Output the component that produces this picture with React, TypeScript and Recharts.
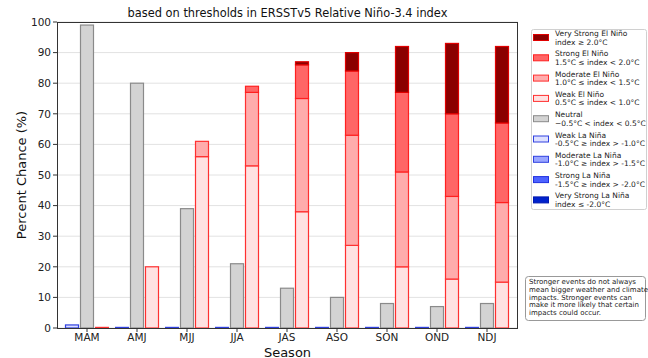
import React from 'react';
import { BarChart, Bar, XAxis, YAxis, CartesianGrid } from 'recharts';

const seasons = ['MAM', 'AMJ', 'MJJ', 'JJA', 'JAS', 'ASO', 'SON', 'OND', 'NDJ'];
const veryStrongLaNina = [0, 0, 0, 0, 0, 0, 0, 0, 0];
const strongLaNina = [0, 0, 0, 0, 0, 0, 0, 0, 0];
const moderateLaNina = [0, 0, 0, 0, 0, 0, 0, 0, 0];
const weakLaNina = [1, 0, 0, 0, 0, 0, 0, 0, 0];
const neutral = [99, 80, 39, 21, 13, 10, 8, 7, 8];
const weakElNino = [0, 20, 56, 53, 38, 27, 20, 16, 15];
const moderateElNino = [0, 0, 5, 24, 37, 36, 31, 27, 26];
const strongElNino = [0, 0, 0, 2, 11, 21, 26, 27, 26];
const veryStrongElNino = [0, 0, 0, 0, 1, 6, 15, 23, 25];
const yTicks = [0, 10, 20, 30, 40, 50, 60, 70, 80, 90, 100];

const data = seasons.map((s, i) => ({
  season: s,
  wLN: weakLaNina[i],
  mLN: moderateLaNina[i],
  sLN: strongLaNina[i],
  vLN: veryStrongLaNina[i],
  neu: neutral[i],
  wEN: weakElNino[i],
  mEN: moderateElNino[i],
  sEN: strongElNino[i],
  vEN: veryStrongElNino[i],
}));

const legendItems = [
  { fill: '#8b0000', stroke: '#e00000', l1: 'Very Strong El Niño', l2: 'index ≥ 2.0°C' },
  { fill: '#ff6666', stroke: '#ff2020', l1: 'Strong El Niño', l2: '1.5°C ≤ index < 2.0°C' },
  { fill: '#ffacac', stroke: '#ff3030', l1: 'Moderate El Niño', l2: '1.0°C ≤ index < 1.5°C' },
  { fill: '#ffe1e1', stroke: '#ff3030', l1: 'Weak El Niño', l2: '0.5°C ≤ index < 1.0°C' },
  { fill: '#d3d3d3', stroke: '#8a8a8a', l1: 'Neutral', l2: '−0.5°C < index < 0.5°C' },
  { fill: '#dde0ff', stroke: '#3040e0', l1: 'Weak La Niña', l2: '-0.5°C ≥ index > -1.0°C' },
  { fill: '#9aa6ff', stroke: '#3040e0', l1: 'Moderate La Niña', l2: '-1.0°C ≥ index > -1.5°C' },
  { fill: '#4d63ff', stroke: '#2030e0', l1: 'Strong La Niña', l2: '-1.5°C ≥ index > -2.0°C' },
  { fill: '#0022cc', stroke: '#0018b0', l1: 'Very Strong La Niña', l2: 'index ≤ -2.0°C' },
];

const noteLines = [
  'Stronger events do not always',
  'mean bigger weather and climate',
  'impacts. Stronger events can',
  'make it more likely that certain',
  'impacts could occur.',
];

const makeShape = (fill: string, stroke: string, drawZero: boolean) => (props: any) => {
  const { x, y, width, height } = props;
  if (x == null || y == null || !isFinite(x) || !isFinite(y)) return <g />;
  const h = Math.abs(height || 0);
  if (h < 0.01) {
    if (!drawZero) return <g />;
    return <line x1={x} x2={x + width} y1={y - 0.5} y2={y - 0.5} stroke={stroke} strokeWidth={1.4} />;
  }
  const top = height < 0 ? y + height : y;
  return (
    <rect x={x + 0.5} y={top} width={width - 1} height={h} fill={fill} stroke={stroke} strokeWidth={1.2} />
  );
};

const FONT = '"DejaVu Sans", Verdana, sans-serif';

const PL = 57;
const PR = 518;
const PT = 22;
const PB = 328;

export default function App() {
  return (
    <div style={{ position: 'absolute', left: 0, top: 0, width: 648, height: 358, background: '#fff', fontFamily: FONT }}>
      <BarChart
        width={648}
        height={358}
        data={data}
        margin={{ top: PT, right: 648 - PR, bottom: 0, left: 0 }}
        barSize={14}
        barGap={1}
      >
        <CartesianGrid vertical={false} stroke="#e2e2e2" strokeWidth={1} />
        <XAxis
          dataKey="season"
          height={358 - PB}
          axisLine={false}
          tickLine={{ stroke: '#333' }}
          tickSize={4}
          padding={{ left: 5, right: 6 }}
          tick={{ fontSize: 10.5, fill: '#222', fontFamily: FONT, dy: '0.68em' }}
          interval={0}
        />
        <YAxis
          width={PL}
          domain={[0, 100]}
          ticks={yTicks}
          axisLine={false}
          tickLine={{ stroke: '#333' }}
          tickSize={4}
          tick={{ fontSize: 10.5, fill: '#222', fontFamily: FONT }}
          interval={0}
        />
        <Bar dataKey="wLN" stackId="ln" isAnimationActive={false} shape={makeShape(legendItems[5].fill, legendItems[5].stroke, true)} />
        <Bar dataKey="mLN" stackId="ln" isAnimationActive={false} shape={makeShape(legendItems[6].fill, legendItems[6].stroke, false)} />
        <Bar dataKey="sLN" stackId="ln" isAnimationActive={false} shape={makeShape(legendItems[7].fill, legendItems[7].stroke, false)} />
        <Bar dataKey="vLN" stackId="ln" isAnimationActive={false} shape={makeShape(legendItems[8].fill, legendItems[8].stroke, false)} />
        <Bar dataKey="neu" stackId="neu" isAnimationActive={false} shape={makeShape(legendItems[4].fill, legendItems[4].stroke, true)} />
        <Bar dataKey="wEN" stackId="en" isAnimationActive={false} shape={makeShape(legendItems[3].fill, legendItems[3].stroke, true)} />
        <Bar dataKey="mEN" stackId="en" isAnimationActive={false} shape={makeShape(legendItems[2].fill, legendItems[2].stroke, false)} />
        <Bar dataKey="sEN" stackId="en" isAnimationActive={false} shape={makeShape(legendItems[1].fill, legendItems[1].stroke, false)} />
        <Bar dataKey="vEN" stackId="en" isAnimationActive={false} shape={makeShape(legendItems[0].fill, legendItems[0].stroke, false)} />
      </BarChart>
      <svg
        width={648}
        height={358}
        style={{ position: 'absolute', left: 0, top: 0, pointerEvents: 'none' }}
        fontFamily={FONT}
      >
        <rect x={PL + 0.5} y={PT + 0.5} width={PR - PL - 1} height={PB - PT} fill="none" stroke="#333" strokeWidth={1} />
        <text x={(PL + PR) / 2} y={17} textAnchor="middle" fontSize={11.4} fill="#111">
          based on thresholds in ERSSTv5 Relative Niño-3.4 index
        </text>
        <text x={(PL + PR) / 2} y={356.5} textAnchor="middle" fontSize={13} fill="#111">
          Season
        </text>
        <text
          x={0}
          y={0}
          transform={`translate(26, ${(PT + PB) / 2}) rotate(-90)`}
          textAnchor="middle"
          fontSize={13}
          fill="#111"
        >
          Percent Chance (%)
        </text>
        <rect x={531.5} y={29.5} width={115} height={180} rx={2} fill="#fff" fillOpacity={0.85} stroke="#d0d0d0" />
        {legendItems.map((it, i) => {
          const cy = 37.5 + i * 20.3;
          return (
            <g key={i}>
              <rect x={533.5} y={cy - 3} width={15} height={6} fill={it.fill} stroke={it.stroke} strokeWidth={1} />
              <text x={555} y={cy - 1.5} fontSize={7.5} fill="#222">{it.l1}</text>
              <text x={555} y={cy + 7} fontSize={7.5} fill="#222">{it.l2}</text>
            </g>
          );
        })}
        <rect x={525.5} y={276.5} width={120} height={44} rx={3} fill="#fff" stroke="#999" />
        {noteLines.map((l, i) => (
          <text key={i} x={529} y={284 + i * 7.8} fontSize={7} fill="#222">{l}</text>
        ))}
      </svg>
    </div>
  );
}
